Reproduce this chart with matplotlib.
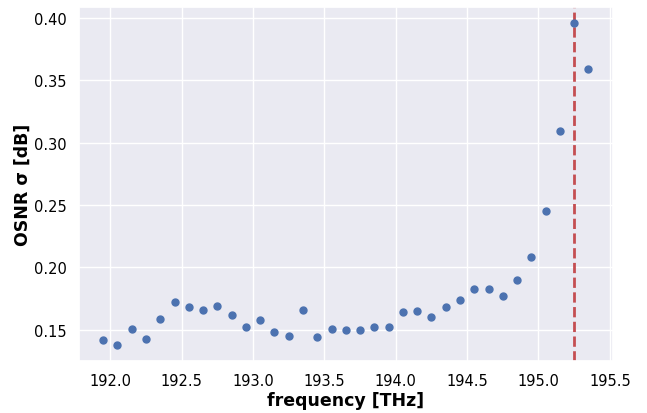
import numpy as np
import matplotlib
matplotlib.use("Agg")
import matplotlib.pyplot as plt
import seaborn as sns

# channel frequencies [THz]
freq = [191.95, 192.05, 192.15, 192.25, 192.35, 192.45, 192.55, 192.65, 192.75,
        192.85, 192.95, 193.05, 193.15, 193.25, 193.35, 193.45, 193.55, 193.65,
        193.75, 193.85, 193.95, 194.05, 194.15, 194.25, 194.35, 194.45, 194.55,
        194.65, 194.75, 194.85, 194.95, 195.05, 195.15, 195.25, 195.35]
# OSNR standard deviation [dB]
osnr_std = [0.142, 0.138, 0.151, 0.143, 0.159, 0.172, 0.168, 0.166, 0.169,
            0.162, 0.152, 0.158, 0.148, 0.145, 0.166, 0.144, 0.151, 0.150,
            0.150, 0.152, 0.152, 0.164, 0.165, 0.160, 0.168, 0.174, 0.1825,
            0.183, 0.177, 0.190, 0.208, 0.245, 0.309, 0.396, 0.359]
# marked frequency
f_mark = 195.25

sns.set_theme(style="darkgrid")
plt.rcParams["text.color"] = "black"
plt.rcParams["axes.labelcolor"] = "black"
plt.rcParams["xtick.color"] = "black"
plt.rcParams["ytick.color"] = "black"

fig, ax = plt.subplots(figsize=(6.47, 4.14), dpi=100)
ax.scatter(freq, osnr_std, s=25, color="#4C72B0", zorder=3)
ax.axvline(f_mark, color="#C44E52", linestyle="--", linewidth=2, zorder=2)

ax.set_xlabel("frequency [THz]", fontsize=12.5, fontweight="bold", labelpad=2)
ax.set_ylabel("OSNR σ [dB]", fontsize=12.5, fontweight="bold", labelpad=1)
ax.tick_params(labelsize=10.5, pad=3)

fig.subplots_adjust(left=0.122, right=0.947, top=0.981, bottom=0.126)
fig.savefig("out.png", dpi=100)
